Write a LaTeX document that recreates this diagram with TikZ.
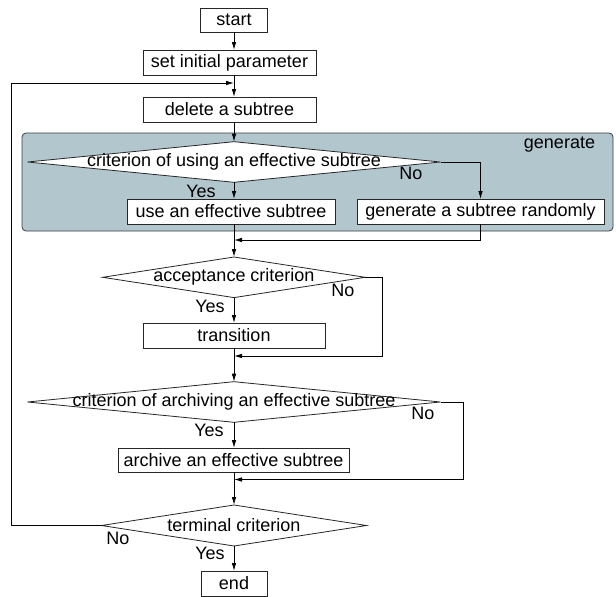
\documentclass[tikz,border=0pt]{standalone}
\usepackage{fontspec}
\setmainfont{Liberation Sans}
\usetikzlibrary{arrows.meta,shapes.geometric}
\definecolor{grpfill}{RGB}{178,198,206}
\definecolor{grpline}{RGB}{60,60,60}
\begin{document}
\begin{tikzpicture}[x=1pt,y=-1pt,
  every node/.style={font=\fontsize{18}{20}\selectfont, inner sep=0pt, outer sep=0pt},
  box/.style={draw=black!85, line width=0.8pt, fill=white, minimum height=25pt},
  dec/.style={diamond, draw=black!85, line width=0.8pt, fill=white},
  arr/.style={draw, line width=0.8pt, -{Latex[length=8pt,width=4.5pt]}}]
\useasboundingbox (0,0) rectangle (616,597);

% group background
\node[draw=grpline, line width=0.8pt, fill=grpfill, rounded corners=4pt,
      minimum width=591pt, minimum height=98pt] (grp) at (317.5,182) {};
\node (genlbl) at (559.5,145) {generate};

% boxes
\node[box, minimum width=67pt, minimum height=24pt] (start) at (234,20) {start};
\node[box, minimum width=173pt] (setinit) at (229.5,62.5) {set initial parameter};
\node[box, minimum width=173pt] (delete) at (229.5,109.5) {delete a subtree};

\node[dec, minimum width=413pt, minimum height=40.6pt] (d1) at (234,162) {};
\node (t1) at (d1.center) {criterion of using an effective subtree};
\node[box, minimum width=208pt] (use) at (231,211.5) {use an effective subtree};
\node[box, minimum width=247pt] (gen) at (480.5,211.5) {generate a subtree randomly};
\node (no1) at (411,173) {No};
\node (yes1) at (201,191) {Yes};

\node[dec, minimum width=262.6pt, minimum height=40.6pt] (d2) at (234,277.3) {};
\node (t2) at (d2.center) {acceptance criterion};
\node (no2) at (343,290) {No};
\node (yes2) at (210,306.7) {Yes};
\node[box, minimum width=182pt] (trans) at (234,335.5) {transition};

\node[dec, minimum width=413pt, minimum height=40.6pt] (d3) at (234,402) {};
\node (t3) at (d3.center) {criterion of archiving an effective subtree};
\node (no3) at (423,413) {No};
\node (yes3) at (209,430) {Yes};
\node[box, minimum width=231pt, minimum height=24pt] (arch) at (233.5,460) {archive an effective subtree};

\node[dec, minimum width=265pt, minimum height=41pt] (d4) at (234,525.5) {};
\node (t4) at (d4.center) {terminal criterion};
\node (no4) at (118,538) {No};
\node (yes4) at (210,553.7) {Yes};
\node[box, minimum width=66pt] (end) at (234,583.5) {end};

% helper coordinates
\coordinate (fb) at (234,83);
\coordinate (fbx) at (11,525.5);
\coordinate (m1) at (234,240);
\coordinate (r2) at (382.7,356);
\coordinate (m2) at (234,356);
\coordinate (r3) at (463.3,479.5);
\coordinate (m3) at (234,479.5);

% connectors
\draw[arr] (start.south) -- (start.south |- setinit.north);
\draw[arr] (start.south |- setinit.south) -- (start.south |- delete.north);
\draw[arr] (d4.west) -- (fbx) |- (fb);
\draw[arr] (start.south |- delete.south) -- (d1.north);
\draw[arr] (d1.south) -- (d1.south |- use.north);
\draw[arr] (d1.east) -| (gen.north);
\draw[arr] (gen.south) |- (m1);
\draw[arr] (d1.south |- use.south) -- (d2.north);
\draw[arr] (d2.south) -- (trans.north);
\draw[arr] (d2.east) -| (r2) -- (m2);
\draw[arr] (trans.south) -- (d3.north);
\draw[arr] (d3.south) -- (d3.south |- arch.north);
\draw[arr] (d3.east) -| (r3) -- (m3);
\draw[arr] (d3.south |- arch.south) -- (d4.north);
\draw[arr] (d4.south) -- (end.north);
\end{tikzpicture}
\end{document}
